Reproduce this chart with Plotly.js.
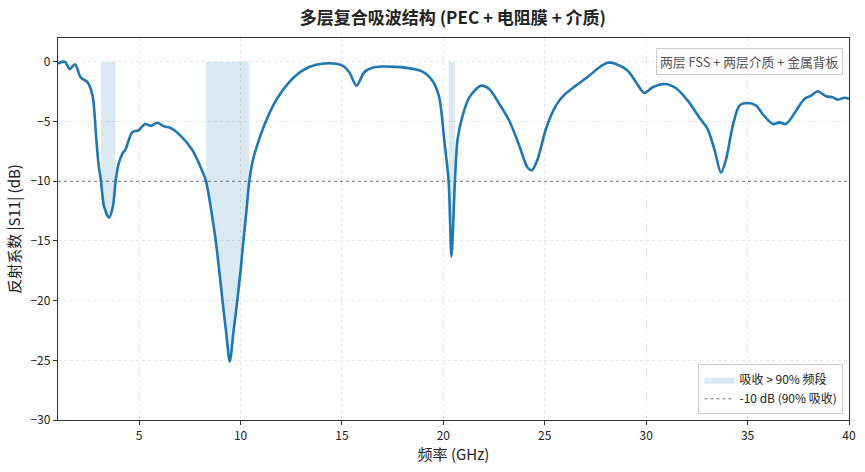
<!DOCTYPE html>
<html>
<head>
<meta charset="utf-8">
<script src="https://cdn.plot.ly/plotly-3.0.1.min.js"></script>
<style>
html,body{margin:0;padding:0;background:#fff;}
#chart{width:865px;height:472px;}
</style>
</head>
<body>
<div id="chart"></div>
<script>
// Frequency (GHz)
const freq = [1.0,1.2,1.35,1.58,1.84,2.12,2.45,2.7,2.89,3.0,3.12,3.27,3.52,3.71,3.84,3.98,4.17,4.34,4.5,4.65,4.8,4.96,5.29,5.57,5.9,6.23,6.56,7.05,7.63,7.87,8.1,8.3,8.56,8.78,8.95,9.11,9.28,9.47,9.66,9.84,10.0,10.14,10.29,10.43,10.6,10.8,11.16,11.74,12.4,13.05,13.71,14.37,15.03,15.36,15.72,16.1,16.5,17.0,17.66,18.3,18.97,19.47,19.8,20.04,20.26,20.4,20.57,20.7,20.95,21.28,21.85,22.26,22.76,23.25,23.74,24.15,24.37,24.65,25.06,25.55,25.96,26.54,27.2,27.69,28.1,28.51,29.08,29.5,29.9,30.32,30.9,31.47,32.05,32.62,33.03,33.36,33.69,33.94,34.27,34.6,35.0,35.42,35.74,36.24,36.57,36.9,37.39,37.8,38.13,38.46,38.87,39.2,39.45,39.78,40.0];
// |S11| (dB)
const s11 = [-0.15,0.0,0.0,-0.6,-0.2,-1.3,-1.7,-2.8,-6.5,-8.6,-10.0,-12.1,-13.05,-12.1,-10.0,-8.6,-7.7,-7.3,-6.5,-5.9,-5.8,-5.75,-5.2,-5.35,-5.1,-5.4,-5.55,-6.2,-7.4,-8.2,-9.1,-10.0,-12.5,-15.0,-17.5,-20.0,-22.5,-25.1,-22.5,-20.0,-17.5,-15.0,-12.5,-10.0,-8.3,-7.1,-5.35,-3.25,-1.7,-0.73,-0.25,-0.11,-0.31,-0.87,-1.99,-0.87,-0.5,-0.39,-0.42,-0.53,-0.81,-1.6,-3.0,-6.5,-10.0,-16.3,-10.0,-6.5,-4.5,-2.97,-2.0,-2.27,-3.53,-4.93,-7.0,-8.85,-9.07,-8.15,-5.6,-3.67,-2.77,-1.99,-1.15,-0.45,-0.08,-0.17,-0.73,-1.7,-2.6,-2.13,-1.85,-2.21,-3.25,-4.65,-5.63,-7.3,-9.27,-8.15,-5.35,-3.67,-3.45,-3.67,-4.37,-5.2,-5.07,-5.2,-4.09,-3.1,-2.83,-2.46,-2.88,-2.97,-3.17,-3.0,-3.1];
const threshold = -10;
const xTicks = [5,10,15,20,25,30,35,40];
const yTicks = [-30,-25,-20,-15,-10,-5,0];

const lineColor = '#1f77b4';
const fillColor = 'rgba(31,119,180,0.16)';

// bands where s11 <= threshold (edges by linear crossing)
const bands = [];
let start = null;
for (let i = 0; i < freq.length; i++) {
  const below = s11[i] <= threshold;
  if (below && start === null) {
    if (i > 0 && s11[i-1] > threshold) {
      const t = (threshold - s11[i-1]) / (s11[i] - s11[i-1]);
      start = freq[i-1] + t * (freq[i] - freq[i-1]);
    } else start = freq[i];
  } else if (!below && start !== null) {
    const t = (threshold - s11[i-1]) / (s11[i] - s11[i-1]);
    bands.push([start, freq[i-1] + t * (freq[i] - freq[i-1])]);
    start = null;
  }
}
if (start !== null) bands.push([start, freq[freq.length-1]]);

const spline = {shape: 'spline', smoothing: 0.8};
const traces = [
  {x: freq, y: freq.map(() => 0), mode: 'lines', line: {width: 0, color: 'rgba(0,0,0,0)'},
   showlegend: false, hoverinfo: 'skip'},
  {x: freq, y: s11, mode: 'lines', line: Object.assign({width: 0, color: fillColor}, spline),
   fill: 'tonexty', fillcolor: fillColor, name: '吸收 > 90% 频段', showlegend: true, hoverinfo: 'skip'},
  {x: [freq[0], freq[freq.length-1]], y: [threshold, threshold], mode: 'lines',
   line: {color: '#777', width: 1, dash: 'dot'}, name: '-10 dB (90% 吸收)', showlegend: true},
  {x: freq, y: s11, mode: 'lines', line: Object.assign({color: lineColor, width: 2.6}, spline),
   showlegend: false, name: 'S11'}
];

const font = 'Noto Sans CJK SC, Noto Sans, sans-serif';
const layout = {
  width: 865, height: 472,
  margin: {l: 58, r: 16, t: 38, b: 52},
  paper_bgcolor: '#fff', plot_bgcolor: '#fff',
  font: {family: font, size: 12, color: '#222'},
  title: {text: '<b>多层复合吸波结构 (PEC + 电阻膜 + 介质)</b>', font: {family: font, size: 17, color: '#222'},
    x: 0.5236, xanchor: 'center', y: 0.962, yanchor: 'middle'},
  xaxis: {range: [1, 40], tickvals: xTicks, ticks: 'outside', ticklen: 4, tickcolor: '#333',
    showline: true, mirror: true, linecolor: '#333', linewidth: 1.2,
    showgrid: true, gridcolor: '#e0e0e0', griddash: '3px,3px', gridwidth: 0.8, zeroline: false,
    title: {text: '频率 (GHz)', font: {family: font, size: 15}, standoff: 8}},
  yaxis: {range: [-30, 2], tickvals: yTicks, ticks: 'outside', ticklen: 4, tickcolor: '#333',
    showline: true, mirror: true, linecolor: '#333', linewidth: 1.2,
    showgrid: true, gridcolor: '#e0e0e0', griddash: '3px,3px', gridwidth: 0.8, zeroline: false,
    title: {text: '反射系数 |S11| (dB)', font: {family: font, size: 15}, standoff: 6}},
  legend: {x: 0.993, xanchor: 'right', y: 0.015, yanchor: 'bottom', bgcolor: 'rgba(255,255,255,0.9)',
    bordercolor: '#ccc', borderwidth: 1, font: {family: font, size: 12, color: '#222'},
    tracegroupgap: 0, traceorder: 'normal'},
  annotations: [{xref: 'paper', yref: 'paper', x: 0.993, y: 0.975, xanchor: 'right', yanchor: 'top',
    text: '两层 FSS + 两层介质 + 金属背板', showarrow: false, font: {family: font, size: 12.8, color: '#555'},
    bgcolor: '#fff', bordercolor: '#ccc', borderwidth: 1, borderpad: 3}]
};

Plotly.newPlot('chart', traces, layout, {displayModeBar: false, staticPlot: true}).then(gd => {
  // restrict the fill to the absorption bands, positioned with the axis scale
  const xa = gd._fullLayout.xaxis, ya = gd._fullLayout.yaxis;
  const svgNS = 'http://www.w3.org/2000/svg';
  const defs = gd.querySelector('svg.main-svg defs');
  const cp = document.createElementNS(svgNS, 'clipPath');
  cp.setAttribute('id', 'bandclip');
  bands.forEach(b => {
    const r = document.createElementNS(svgNS, 'rect');
    const x0 = xa.l2p(b[0]), x1 = xa.l2p(b[1]);
    r.setAttribute('x', x0); r.setAttribute('width', x1 - x0);
    r.setAttribute('y', 0); r.setAttribute('height', ya._length);
    cp.appendChild(r);
  });
  defs.appendChild(cp);
  gd.querySelectorAll('.scatterlayer .trace .js-fill').forEach(p => p.setAttribute('clip-path', 'url(#bandclip)'));
});
</script>
</body>
</html>
